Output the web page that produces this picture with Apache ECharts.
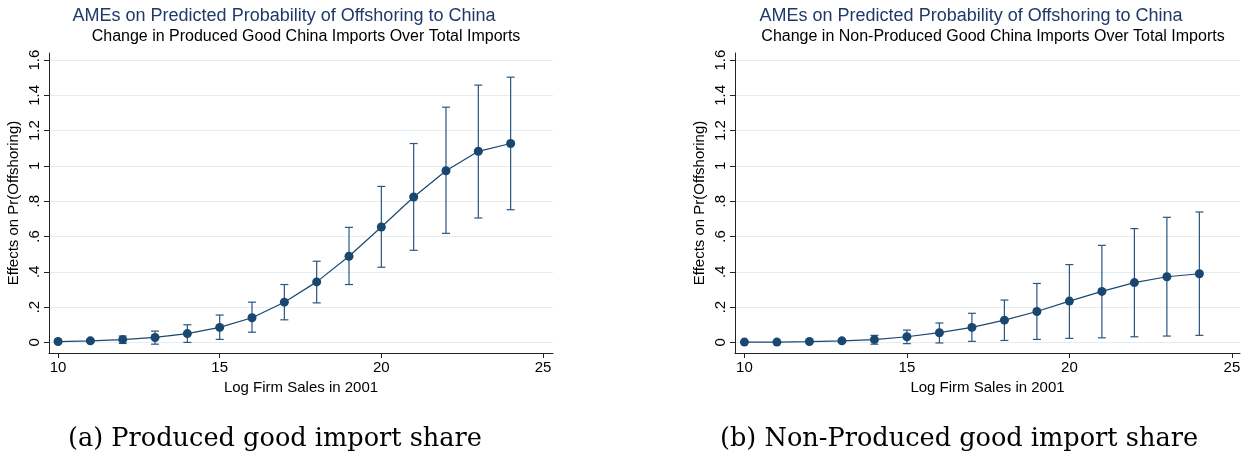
<!DOCTYPE html>
<html>
<head>
<meta charset="utf-8">
<script src="https://cdn.jsdelivr.net/npm/echarts@6/dist/echarts.min.js"></script>
<style>
html, body { margin: 0; padding: 0; background: #fff; }
#main { width: 1254px; height: 458px; }
</style>
</head>
<body>
<div id="main"></div>
<script>
// Log firm sales in 2001
var salesX = [10, 11, 12, 13, 14, 15, 16, 17, 18, 19, 20, 21, 22, 23, 24];

// (a) produced good import share
var prodMean = [0.005, 0.009, 0.016, 0.028, 0.05, 0.085, 0.14, 0.228, 0.343, 0.488, 0.654, 0.824, 0.973, 1.083, 1.127];
var prodLow = [-0.002, 0.001, -0.006, -0.01, 0.0, 0.017, 0.058, 0.128, 0.224, 0.328, 0.426, 0.522, 0.618, 0.705, 0.752];
var prodHigh = [0.012, 0.017, 0.036, 0.064, 0.1, 0.155, 0.228, 0.328, 0.46, 0.652, 0.884, 1.127, 1.333, 1.458, 1.503];

// (b) non-produced good import share
var nonMean = [0.002, 0.002, 0.005, 0.009, 0.016, 0.032, 0.055, 0.085, 0.126, 0.175, 0.234, 0.289, 0.339, 0.372, 0.389];
var nonLow = [0.0, 0.0, 0.0, 0.002, -0.01, -0.007, -0.003, 0.006, 0.011, 0.017, 0.023, 0.026, 0.032, 0.036, 0.04];
var nonHigh = [0.004, 0.004, 0.01, 0.016, 0.04, 0.07, 0.11, 0.165, 0.24, 0.334, 0.441, 0.55, 0.645, 0.709, 0.739];

var yTicks = [0, 0.2, 0.4, 0.6, 0.8, 1, 1.2, 1.4, 1.6];
var xTicks = [10, 15, 20, 25];

var mainTitle = 'AMEs on Predicted Probability of Offshoring to China';
var subTitles = ['Change in Produced Good China Imports Over Total Imports',
		'Change in Non-Produced Good China Imports Over Total Imports'];
var captions = ['(a) Produced good import share', '(b) Non-Produced good import share'];

var navy = '#1a476f';
var font = 'Liberation Sans, Arial, sans-serif';

function pairs(a, b) {
	var out = [];
	for (var i = 0; i < a.length; i++) out.push([a[i], b[i]]);
	return out;
}
function ranges(lo, hi) {
	var out = [];
	for (var i = 0; i < salesX.length; i++) out.push([salesX[i], lo[i], hi[i]]);
	return out;
}

// stata style labels: .2 instead of 0.2
function stataFmt(v) {
	var s = String(Math.round(v * 10) / 10);
	return s.replace(/^0\./, '.');
}

function capBars(params, api) {
	var x = api.value(0);
	var lo = api.coord([x, api.value(1)]);
	var hi = api.coord([x, api.value(2)]);
	var w = 4;
	var st = { stroke: '#2a5680', lineWidth: 1.2 };
	return {
		type: 'group',
		children: [
			{ type: 'line', shape: { x1: lo[0], y1: lo[1], x2: hi[0], y2: hi[1] }, style: st },
			{ type: 'line', shape: { x1: lo[0] - w, y1: lo[1], x2: lo[0] + w, y2: lo[1] }, style: st },
			{ type: 'line', shape: { x1: hi[0] - w, y1: hi[1], x2: hi[0] + w, y2: hi[1] }, style: st }
		]
	};
}

function xAxisFor(idx, min, max) {
	return {
		type: 'value', gridIndex: idx, min: min, max: max,
		name: 'Log Firm Sales in 2001', nameLocation: 'middle', nameGap: 25,
		nameTextStyle: { fontFamily: font, fontSize: 15, color: '#000' },
		axisLine: { onZero: false, lineStyle: { color: '#222', width: 1 } },
		axisTick: { show: true, length: 5, customValues: xTicks, lineStyle: { color: '#222' } },
		axisLabel: { customValues: xTicks, margin: 7, fontFamily: font, fontSize: 15, color: '#000' },
		splitLine: { show: false }
	};
}
function yAxisFor(idx) {
	return {
		type: 'value', gridIndex: idx, min: -0.06, max: 1.64,
		name: 'Effects on Pr(Offshoring)', nameLocation: 'middle', nameGap: 28,
		nameTextStyle: { fontFamily: font, fontSize: 15, color: '#000' },
		axisLine: { show: true, lineStyle: { color: '#222', width: 1 } },
		axisTick: { show: true, length: 5, customValues: yTicks, lineStyle: { color: '#222' } },
		axisLabel: { customValues: yTicks, rotate: 90, margin: 7, fontFamily: font, fontSize: 15, color: '#000', formatter: stataFmt },
		splitLine: { show: true, lineStyle: { color: '#e3eef0', width: 1 } }
	};
}

var chart = echarts.init(document.getElementById('main'));

var option = {
	animation: false,
	backgroundColor: '#fff',
	title: [
		{ text: mainTitle, left: 279, top: 2, textAlign: 'center', textStyle: { fontFamily: font, fontSize: 18, fontWeight: 'normal', color: '#1f3a68' } },
		{ text: subTitles[0], left: 301, top: 24, textAlign: 'center', textStyle: { fontFamily: font, fontSize: 16, fontWeight: 'normal', color: '#000' } },
		{ text: mainTitle, left: 966, top: 2, textAlign: 'center', textStyle: { fontFamily: font, fontSize: 18, fontWeight: 'normal', color: '#1f3a68' } },
		{ text: subTitles[1], left: 988, top: 24, textAlign: 'center', textStyle: { fontFamily: font, fontSize: 16, fontWeight: 'normal', color: '#000' } }
	],
	graphic: [
		{ type: 'text', left: 68, top: 426, style: { text: captions[0], font: '25.6px "DejaVu Serif", serif', fill: '#000' } },
		{ type: 'text', left: 720, top: 426, style: { text: captions[1], font: '25.6px "DejaVu Serif", serif', fill: '#000' } }
	],
	grid: [
		{ left: 49, top: 53, width: 504, height: 300 },
		{ left: 735, top: 53, width: 505, height: 300 }
	],
	xAxis: [xAxisFor(0, 9.72, 25.31), xAxisFor(1, 9.71, 25.25)],
	yAxis: [yAxisFor(0), yAxisFor(1)],
	series: [
		{ type: 'custom', xAxisIndex: 0, yAxisIndex: 0, renderItem: capBars, data: ranges(prodLow, prodHigh), z: 2 },
		{ type: 'line', xAxisIndex: 0, yAxisIndex: 0, data: pairs(salesX, prodMean), symbol: 'circle', symbolSize: 9,
			lineStyle: { color: navy, width: 1.2 }, itemStyle: { color: navy }, z: 3 },
		{ type: 'custom', xAxisIndex: 1, yAxisIndex: 1, renderItem: capBars, data: ranges(nonLow, nonHigh), z: 2 },
		{ type: 'line', xAxisIndex: 1, yAxisIndex: 1, data: pairs(salesX, nonMean), symbol: 'circle', symbolSize: 9,
			lineStyle: { color: navy, width: 1.2 }, itemStyle: { color: navy }, z: 3 }
	]
};
chart.setOption(option);
</script>
</body>
</html>
